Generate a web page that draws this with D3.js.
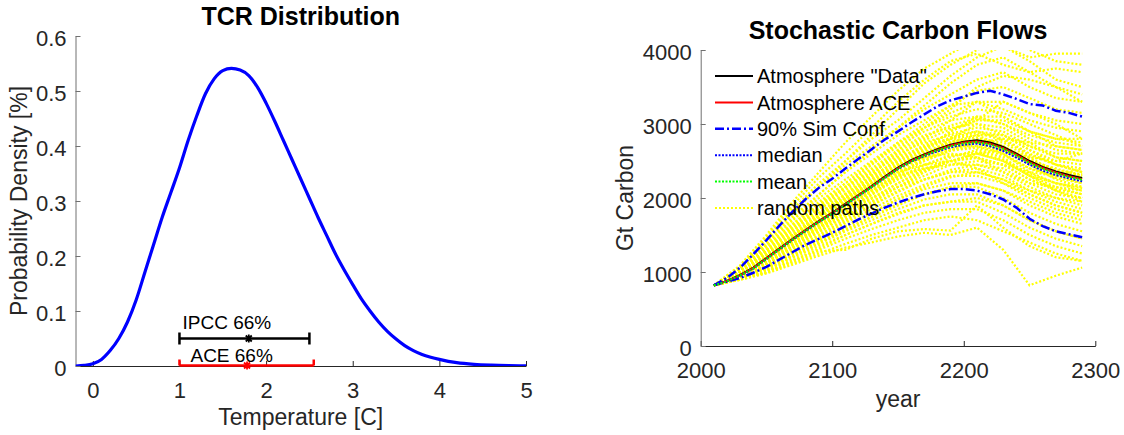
<!DOCTYPE html>
<html>
<head>
<meta charset="utf-8">
<script src="https://cdn.jsdelivr.net/npm/d3@7"></script>
<style>
  body { margin: 0; background: #fff; }
  svg { font-family: "Liberation Sans", Arial, Helvetica, sans-serif; }
</style>
</head>
<body>
<div id="container"></div>
<script>
/* CONSTANTS AND GLOBALS */
const width = 1124,
  height = 435,
  fontTick = 22,
  fontLabel = 23,
  fontTitle = 25,
  axisColor = "#262626";

/* DATA */
// left panel: TCR density
const tcrTemp = [-0.2, -0.1, 0, 0.1, 0.2, 0.3, 0.4, 0.5, 0.6, 0.7, 0.8, 0.9, 1.0, 1.1, 1.2, 1.3, 1.4, 1.5, 1.6, 1.7,
  1.8, 1.9, 2.0, 2.1, 2.2, 2.3, 2.4, 2.5, 2.6, 2.7, 2.8, 2.9, 3.0, 3.1, 3.2, 3.3, 3.4, 3.5, 3.6, 3.7, 3.8, 3.9,
  4.0, 4.2, 4.4, 4.6, 4.8, 5.0];
const tcrDensity = [0, 0.001, 0.004, 0.012, 0.028, 0.05, 0.08, 0.12, 0.17, 0.22, 0.27, 0.315, 0.36, 0.41, 0.455, 0.495,
  0.522, 0.537, 0.541, 0.538, 0.528, 0.507, 0.478, 0.445, 0.41, 0.375, 0.34, 0.305, 0.27, 0.237, 0.204, 0.175,
  0.148, 0.122, 0.1, 0.08, 0.063, 0.049, 0.037, 0.028, 0.021, 0.016, 0.012, 0.006, 0.003, 0.0015, 0.0007, 0.0003];
const ipccRange = [1.0, 1.8, 2.5];   // low, centre, high
const aceRange = [1.0, 1.78, 2.55];
const rangeLevels = [0.05, 0];
const rangeLabels = ["IPCC 66%", "ACE 66%"];
const tcrXTicks = [0, 1, 2, 3, 4, 5];
const tcrYTicks = [0, 0.1, 0.2, 0.3, 0.4, 0.5, 0.6];

// right panel: carbon flows, 10-year steps
const years = [2010, 2020, 2030, 2040, 2050, 2060, 2070, 2080, 2090, 2100, 2110, 2120, 2130, 2140, 2150,
  2160, 2170, 2180, 2190, 2200, 2210, 2220, 2230, 2240, 2250, 2260, 2270, 2280, 2290];
const atmData = [820, 880, 960, 1060, 1190, 1320, 1450, 1570, 1690, 1800, 1920, 2040, 2160, 2290, 2410,
  2510, 2590, 2660, 2720, 2760, 2780, 2750, 2690, 2600, 2500, 2420, 2360, 2310, 2270];
const atmACE = [820, 880, 955, 1055, 1185, 1315, 1445, 1565, 1685, 1795, 1915, 2035, 2155, 2280, 2400,
  2500, 2580, 2650, 2710, 2750, 2765, 2735, 2675, 2585, 2485, 2405, 2345, 2295, 2255];
const simUpper = [820, 920, 1060, 1240, 1430, 1630, 1820, 1990, 2140, 2260, 2400, 2530, 2660, 2790, 2900,
  3020, 3130, 3240, 3320, 3370, 3420, 3450, 3400, 3340, 3270, 3250, 3180, 3150, 3100];
const simLower = [820, 870, 920, 990, 1070, 1170, 1270, 1370, 1450, 1530, 1620, 1710, 1790, 1870, 1940,
  2000, 2050, 2090, 2120, 2120, 2100, 2050, 1980, 1870, 1720, 1620, 1550, 1510, 1470];
const simMedian = [820, 875, 950, 1045, 1175, 1305, 1435, 1555, 1675, 1785, 1905, 2025, 2145, 2270, 2390,
  2490, 2565, 2630, 2685, 2720, 2735, 2700, 2635, 2545, 2450, 2370, 2310, 2265, 2225];
const simMean = [820, 875, 955, 1050, 1180, 1310, 1440, 1560, 1680, 1790, 1910, 2030, 2150, 2275, 2395,
  2495, 2575, 2645, 2700, 2740, 2755, 2725, 2665, 2575, 2475, 2395, 2335, 2285, 2245];

// random paths, 20-year steps
const pathYears = [2010, 2030, 2050, 2070, 2090, 2110, 2130, 2150, 2170, 2190, 2210, 2230, 2250, 2270, 2290];
const randomPaths = [
  [820, 1090, 1500, 1950, 2350, 2750, 3100, 3450, 3750, 3950, 4150, 4050, 3900, 3950, 3950],
  [820, 1080, 1470, 1900, 2280, 2600, 2950, 3300, 3600, 3850, 3950, 3800, 3700, 3750, 3700],
  [820, 1070, 1450, 1850, 2200, 2500, 2800, 3050, 3350, 3650, 3900, 4050, 3850, 3600, 3500],
  [820, 1050, 1400, 1800, 2150, 2450, 2700, 2950, 3200, 3400, 3600, 3700, 3500, 3350, 3300],
  [820, 1040, 1380, 1750, 2050, 2350, 2600, 2850, 3050, 3250, 3300, 3200, 3050, 2950, 2900],
  [820, 1020, 1350, 1700, 2000, 2250, 2500, 2750, 2950, 3100, 3200, 3150, 3000, 2850, 2700],
  [820, 1010, 1320, 1650, 1950, 2200, 2450, 2700, 2900, 3050, 3100, 3000, 2800, 2650, 2600],
  [820, 1000, 1290, 1600, 1900, 2150, 2400, 2650, 2850, 2950, 3000, 2850, 2650, 2500, 2450],
  [820, 990, 1260, 1560, 1850, 2100, 2350, 2600, 2750, 2850, 2900, 2800, 2600, 2450, 2350],
  [820, 980, 1230, 1520, 1780, 2050, 2300, 2500, 2700, 2800, 2850, 2700, 2500, 2400, 2300],
  [820, 970, 1210, 1480, 1730, 1980, 2230, 2450, 2600, 2750, 2800, 2750, 2550, 2350, 2250],
  [820, 960, 1190, 1450, 1700, 1930, 2170, 2400, 2580, 2700, 2700, 2600, 2400, 2300, 2200],
  [820, 955, 1170, 1420, 1650, 1880, 2100, 2350, 2500, 2650, 2700, 2650, 2450, 2250, 2150],
  [820, 950, 1150, 1390, 1620, 1850, 2050, 2280, 2450, 2580, 2600, 2500, 2300, 2150, 2100],
  [820, 945, 1130, 1360, 1580, 1800, 2000, 2200, 2380, 2500, 2550, 2450, 2250, 2100, 2000],
  [820, 940, 1110, 1330, 1540, 1750, 1950, 2150, 2300, 2450, 2450, 2350, 2150, 2000, 1950],
  [820, 935, 1090, 1300, 1500, 1700, 1900, 2080, 2250, 2350, 2400, 2300, 2100, 1950, 1850],
  [820, 930, 1080, 1270, 1470, 1660, 1850, 2030, 2180, 2300, 2300, 2200, 2000, 1850, 1750],
  [820, 925, 1070, 1250, 1440, 1620, 1800, 1980, 2120, 2200, 2200, 2100, 1900, 1750, 1650],
  [820, 920, 1050, 1230, 1400, 1580, 1750, 1920, 2050, 2150, 2150, 2000, 1800, 1650, 1550],
  [820, 915, 1040, 1210, 1380, 1550, 1700, 1850, 1980, 2050, 2050, 1900, 1700, 1550, 1450],
  [820, 910, 1030, 1190, 1350, 1500, 1650, 1780, 1900, 1950, 1950, 1800, 1600, 1450, 1350],
  [820, 905, 1010, 1160, 1300, 1450, 1580, 1700, 1800, 1850, 1850, 1700, 1500, 1350, 1250],
  [820, 900, 990, 1120, 1250, 1380, 1500, 1600, 1700, 1750, 1700, 1550, 1400, 1250, 1150],
  [820, 895, 980, 1100, 1220, 1330, 1400, 1480, 1530, 1500, 1600, 1300, 820, 950, 1060],
  [820, 900, 1000, 1140, 1280, 1300, 1450, 1550, 1580, 1560, 1900, 1600, 1350, 1200, 1150],
  [820, 1000, 1250, 1500, 1700, 1950, 2250, 2550, 2800, 3050, 3300, 3100, 2900, 2700, 2650],
  [820, 960, 1220, 1500, 1800, 2050, 2250, 2450, 2550, 2600, 2550, 2350, 2200, 2150, 2050],
  [820, 1030, 1300, 1600, 1850, 2050, 2300, 2500, 2650, 2900, 3050, 3300, 3150, 3000, 2800],
  [820, 940, 1180, 1480, 1760, 2000, 2200, 2350, 2450, 2500, 2400, 2200, 2050, 1900, 1800],
  [820, 980, 1200, 1400, 1600, 1800, 2050, 2300, 2550, 2800, 3000, 2950, 2750, 2550, 2500],
  [820, 1050, 1350, 1650, 1900, 2150, 2350, 2550, 2700, 2800, 2750, 2600, 2350, 2200, 2100],
  [820, 920, 1100, 1350, 1600, 1850, 2100, 2300, 2400, 2450, 2500, 2450, 2350, 2300, 2400],
  [820, 990, 1240, 1500, 1750, 2000, 2300, 2650, 2950, 3200, 3500, 3650, 3600, 3500, 3400],
  [820, 950, 1160, 1400, 1650, 1900, 2150, 2400, 2650, 2900, 3100, 3100, 2900, 2800, 2750],
  [820, 930, 1120, 1350, 1550, 1750, 1950, 2150, 2350, 2550, 2650, 2550, 2300, 2100, 1950],
  [820, 1010, 1290, 1560, 1800, 2000, 2200, 2400, 2550, 2650, 2750, 2800, 2750, 2700, 2650],
  [820, 970, 1180, 1420, 1640, 1840, 2000, 2150, 2250, 2350, 2350, 2250, 2100, 2000, 1900],
  [820, 1060, 1420, 1800, 2150, 2500, 2850, 3200, 3550, 3800, 4000, 4150, 4000, 3850, 3800],
  [820, 940, 1140, 1380, 1620, 1860, 2080, 2250, 2400, 2500, 2600, 2650, 2550, 2500, 2600],
  [820, 1000, 1280, 1580, 1870, 2130, 2380, 2620, 2820, 2980, 3080, 3000, 2850, 2750, 2700],
  [820, 975, 1220, 1500, 1770, 2020, 2270, 2520, 2720, 2870, 2950, 2900, 2700, 2550, 2500],
  [820, 965, 1200, 1470, 1740, 1990, 2240, 2480, 2680, 2820, 2880, 2780, 2580, 2450, 2400],
  [820, 955, 1180, 1440, 1690, 1940, 2190, 2430, 2620, 2760, 2820, 2700, 2520, 2380, 2320],
  [820, 945, 1160, 1410, 1660, 1900, 2140, 2370, 2560, 2700, 2750, 2650, 2470, 2330, 2270],
  [820, 935, 1140, 1380, 1620, 1860, 2090, 2320, 2500, 2640, 2680, 2580, 2400, 2270, 2200],
  [820, 925, 1120, 1350, 1590, 1820, 2040, 2260, 2440, 2570, 2620, 2520, 2330, 2200, 2130],
  [820, 915, 1100, 1320, 1550, 1780, 1990, 2200, 2380, 2500, 2540, 2450, 2250, 2120, 2050],
  [820, 960, 1210, 1490, 1780, 2060, 2330, 2580, 2780, 2930, 3050, 3050, 2900, 2800, 2800],
  [820, 1020, 1310, 1620, 1920, 2200, 2480, 2730, 2950, 3150, 3300, 3300, 3150, 3050, 3000],
  [820, 990, 1230, 1480, 1720, 1950, 2180, 2400, 2600, 2750, 2850, 2850, 2700, 2600, 2600],
  [820, 930, 1090, 1290, 1500, 1720, 1930, 2150, 2350, 2500, 2600, 2500, 2300, 2200, 2150],
  [820, 920, 1070, 1260, 1460, 1680, 1900, 2100, 2250, 2380, 2450, 2400, 2200, 2050, 2000],
  [820, 910, 1060, 1230, 1420, 1610, 1800, 1990, 2150, 2280, 2350, 2250, 2050, 1900, 1800],
  [820, 905, 1040, 1210, 1390, 1570, 1740, 1900, 2050, 2150, 2200, 2100, 1950, 1800, 1700],
  [820, 985, 1250, 1550, 1850, 2150, 2450, 2750, 3000, 3250, 3450, 3500, 3350, 3200, 3150],
  [820, 945, 1150, 1400, 1680, 1950, 2200, 2450, 2650, 2800, 2900, 2850, 2650, 2450, 2350],
  [820, 970, 1190, 1430, 1660, 1880, 2110, 2330, 2520, 2660, 2750, 2700, 2500, 2350, 2300],
  [820, 1040, 1370, 1720, 2050, 2350, 2650, 2950, 3250, 3550, 3800, 3900, 3700, 3500, 3300],
  [820, 895, 1000, 1150, 1320, 1500, 1650, 1800, 1900, 1950, 2000, 1900, 1700, 1550, 1450]
];
const carbonXTicks = [2000, 2100, 2200, 2300];
const carbonYTicks = [0, 1000, 2000, 3000, 4000];
const legendLabels = ['Atmosphere "Data"', "Atmosphere ACE", "90% Sim Conf", "median", "mean", "random paths"];

const svg = d3.select("#container")
  .append("svg")
  .attr("width", width)
  .attr("height", height)
  .style("background-color", "white");

function styleAxis(g, domainColor) {
  g.attr("font-size", fontTick).attr("font-family", null);
  g.select(".domain").attr("stroke", domainColor);
  g.selectAll(".tick line").attr("stroke", domainColor);
  g.selectAll(".tick text").attr("fill", axisColor);
}

/* LEFT PANEL: TCR DISTRIBUTION */
const xT = d3.scaleLinear().domain([-0.2, 5]).range([75.5, 526]);
const yT = d3.scaleLinear().domain([0, 0.6]).range([366, 36]);

svg.append("clipPath").attr("id", "clipL")
  .append("rect")
  .attr("x", xT.range()[0]).attr("y", yT.range()[1])
  .attr("width", xT.range()[1] - xT.range()[0])
  .attr("height", yT.range()[0] - yT.range()[1]);

svg.append("g")
  .attr("transform", `translate(0,${yT(0)})`)
  .call(d3.axisBottom(xT).tickValues(tcrXTicks).tickSize(-5).tickSizeOuter(0).tickPadding(16)
    .tickFormat(d3.format("d")))
  .call(g => styleAxis(g, axisColor));

svg.append("g")
  .attr("transform", `translate(${xT(-0.2)},0)`)
  .call(d3.axisLeft(yT).tickValues(tcrYTicks).tickSize(-5).tickSizeOuter(0).tickPadding(9)
    .tickFormat(d => d === 0 ? "0" : d3.format(".1f")(d)))
  .call(g => styleAxis(g, "#707070"))
  .call(g => g.selectAll(".tick text").attr("dy", "0.45em"));

const plotL = svg.append("g").attr("clip-path", "url(#clipL)");

plotL.append("path")
  .datum(tcrTemp.map((t, i) => [t, tcrDensity[i]]))
  .attr("fill", "none")
  .attr("stroke", "#0000ff")
  .attr("stroke-width", 3.2)
  .attr("d", d3.line().x(d => xT(d[0])).y(d => yT(d[1])).curve(d3.curveMonotoneX));

// 66% range bars
const bars = [
  { r: ipccRange, level: rangeLevels[0], color: "#000000", label: rangeLabels[0], dx: 3, dy: -10, capDown: 6 },
  { r: aceRange, level: rangeLevels[1], color: "#ff0000", label: rangeLabels[1], dx: 11, dy: -4, capDown: 0 }
];
bars.forEach(b => {
  const yy = yT(b.level) - (b.level === 0 ? 0.5 : 0);
  const g = svg.append("g").attr("stroke", b.color).attr("stroke-width", 2.5).attr("fill", "none");
  g.append("line").attr("x1", xT(b.r[0])).attr("x2", xT(b.r[2])).attr("y1", yy).attr("y2", yy);
  [b.r[0], b.r[2]].forEach(v => {
    g.append("line").attr("x1", xT(v)).attr("x2", xT(v)).attr("y1", yy - 6).attr("y2", yy + b.capDown);
  });
  const cx = xT(b.r[1]);
  g.append("path")
    .attr("stroke-width", 1.8)
    .attr("d", `M${cx - 3},${yy - 3}L${cx + 3},${yy + 3}M${cx - 3},${yy + 3}L${cx + 3},${yy - 3}M${cx},${yy - 4}L${cx},${yy + 4}`);
  svg.append("text")
    .attr("x", xT(b.r[0]) + b.dx)
    .attr("y", yy + b.dy)
    .attr("font-size", 19)
    .attr("fill", "#000")
    .text(b.label);
});

svg.append("text")
  .attr("x", (xT.range()[0] + xT.range()[1]) / 2)
  .attr("y", 25)
  .attr("text-anchor", "middle")
  .attr("font-size", fontTitle)
  .attr("font-weight", "bold")
  .text("TCR Distribution");

svg.append("text")
  .attr("x", (xT.range()[0] + xT.range()[1]) / 2)
  .attr("y", yT(0) + 59)
  .attr("text-anchor", "middle")
  .attr("font-size", fontLabel)
  .attr("fill", axisColor)
  .text("Temperature [C]");

svg.append("text")
  .attr("transform", `translate(27,${(yT.range()[0] + yT.range()[1]) / 2}) rotate(-90)`)
  .attr("text-anchor", "middle")
  .attr("font-size", fontLabel)
  .attr("fill", axisColor)
  .text("Probability Density [%]");

/* RIGHT PANEL: STOCHASTIC CARBON FLOWS */
const xC = d3.scaleLinear().domain([2000, 2300]).range([700.7, 1095.3]);
const yC = d3.scaleLinear().domain([0, 4000]).range([346, 50]);

svg.append("clipPath").attr("id", "clipR")
  .append("rect")
  .attr("x", xC.range()[0]).attr("y", yC.range()[1])
  .attr("width", xC.range()[1] - xC.range()[0])
  .attr("height", yC.range()[0] - yC.range()[1]);

svg.append("g")
  .attr("transform", `translate(0,${yC(0)})`)
  .call(d3.axisBottom(xC).tickValues(carbonXTicks).tickSize(-5).tickSizeOuter(0).tickPadding(16)
    .tickFormat(d3.format("d")))
  .call(g => styleAxis(g, axisColor));

svg.append("g")
  .attr("transform", `translate(${xC(2000)},0)`)
  .call(d3.axisLeft(yC).tickValues(carbonYTicks).tickSize(-5).tickSizeOuter(0).tickPadding(9)
    .tickFormat(d3.format("d")))
  .call(g => styleAxis(g, "#707070"))
  .call(g => g.selectAll(".tick text").attr("dy", "0.42em"));

const plotR = svg.append("g").attr("clip-path", "url(#clipR)");

const lineYears = d3.line().x((d, i) => xC(years[i])).y(d => yC(d));
const linePaths = d3.line().x((d, i) => xC(pathYears[i])).y(d => yC(d));

plotR.selectAll(".rpath")
  .data(randomPaths)
  .join("path")
  .attr("class", "rpath")
  .attr("fill", "none")
  .attr("stroke", "#ffff00")
  .attr("stroke-width", 2.2)
  .attr("stroke-dasharray", "2,2")
  .attr("d", linePaths);

const series = [
  { v: atmData, color: "#000000", w: 2, dash: null },
  { v: atmACE, color: "#ff0000", w: 2, dash: null },
  { v: simUpper, color: "#0000ff", w: 2.5, dash: "9,3,2,3" },
  { v: simMedian, color: "#0000ff", w: 2, dash: "2,1.5" },
  { v: simMean, color: "#00ff00", w: 2, dash: "2,1.5" },
  { v: null, color: "#ffff00", w: 2.2, dash: "2,2" }
];
// lower 90% band uses same style as upper
plotR.append("path")
  .datum(simLower)
  .attr("fill", "none")
  .attr("stroke", series[2].color)
  .attr("stroke-width", series[2].w)
  .attr("stroke-dasharray", series[2].dash)
  .attr("d", lineYears);
[0, 1, 2, 3, 4].forEach(i => {
  plotR.append("path")
    .datum(series[i].v)
    .attr("fill", "none")
    .attr("stroke", series[i].color)
    .attr("stroke-width", series[i].w)
    .attr("stroke-dasharray", series[i].dash)
    .attr("d", lineYears);
});

/* LEGEND */
const legend = svg.append("g").attr("transform", "translate(715,76)");
legendLabels.forEach((label, i) => {
  const yy = i * 26.4;
  legend.append("line")
    .attr("x1", 0).attr("x2", 38).attr("y1", yy).attr("y2", yy)
    .attr("stroke", series[i].color)
    .attr("stroke-width", series[i].w)
    .attr("stroke-dasharray", series[i].dash);
  legend.append("text")
    .attr("x", 42).attr("y", yy).attr("dy", "0.36em")
    .attr("font-size", 20)
    .attr("fill", "#000")
    .text(label);
});

svg.append("text")
  .attr("x", (xC.range()[0] + xC.range()[1]) / 2)
  .attr("y", 38.5)
  .attr("text-anchor", "middle")
  .attr("font-size", fontTitle)
  .attr("font-weight", "bold")
  .text("Stochastic Carbon Flows");

svg.append("text")
  .attr("x", (xC.range()[0] + xC.range()[1]) / 2)
  .attr("y", yC(0) + 61)
  .attr("text-anchor", "middle")
  .attr("font-size", fontLabel)
  .attr("fill", axisColor)
  .text("year");

svg.append("text")
  .attr("transform", `translate(633,${(yC.range()[0] + yC.range()[1]) / 2}) rotate(-90)`)
  .attr("text-anchor", "middle")
  .attr("font-size", fontLabel)
  .attr("fill", axisColor)
  .text("Gt Carbon");
</script>
</body>
</html>
